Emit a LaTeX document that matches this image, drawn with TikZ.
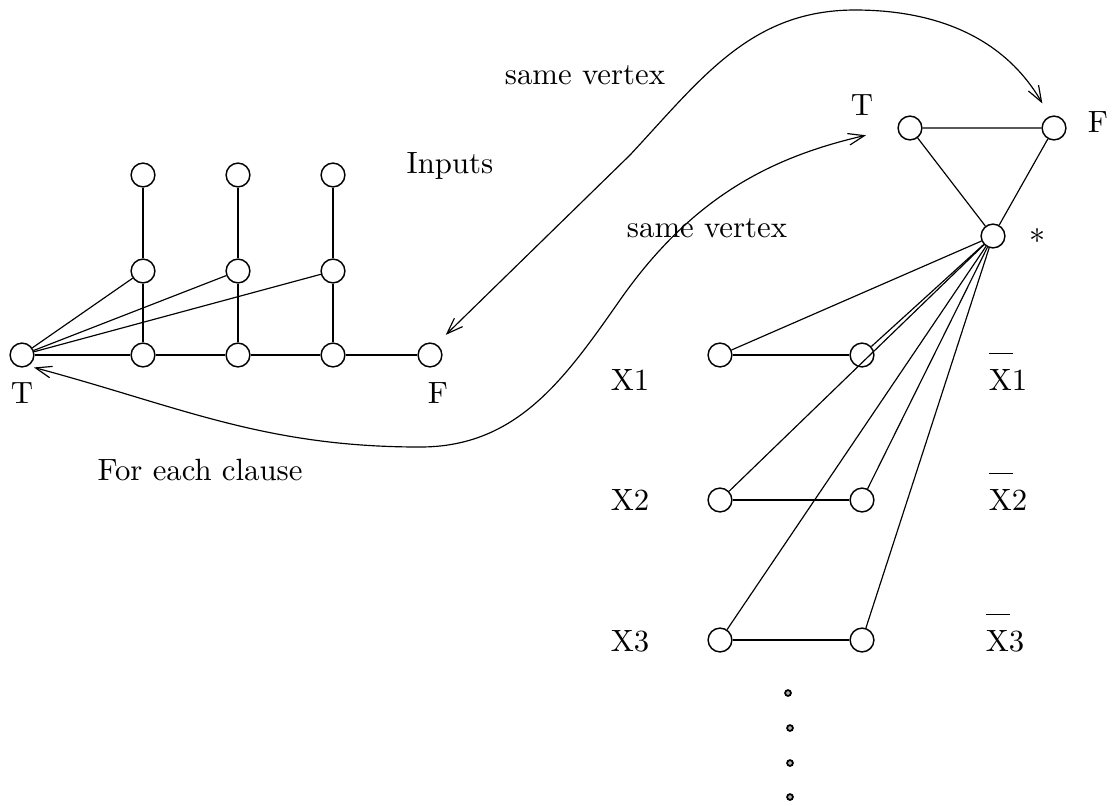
\documentclass[tikz,border=0pt]{standalone}
\usepackage{tikz}
\usetikzlibrary{arrows.meta, positioning, calc}
\tikzset{
  vtx/.style={circle, draw, line width=0.5pt, inner sep=0pt, minimum size=0.285cm},
  edge/.style={line width=0.4pt},
  link/.style={{Straight Barb[length=5.5pt,width=4pt]}-{Straight Barb[length=5.5pt,width=4pt]}, line width=0.4pt},
  lbl/.style={font=\fontsize{10.5}{12}\selectfont, inner sep=0pt},
  dotv/.style={circle, draw, fill=gray!60, line width=0.6pt, inner sep=0pt, minimum size=0.07cm},
}
\newcommand{\negvar}[1]{\rlap{\smash{\rule[12.5pt]{8.4pt}{0.35pt}}}X#1}

\begin{document}
\begin{tikzpicture}[x=0.012cm, y=-0.012cm]
  \useasboundingbox (0,0) rectangle (1113,805);

  % Clause gadget
  \node[vtx] (cT) at (22,355) {};
  \node[vtx] (cF) at (430,355) {};
  \foreach \i/\x in {1/143,2/238,3/333} {
    \node[vtx] (in\i) at (\x,175) {};
    \node[vtx] (or\i) at (\x,271) {};
    \node[vtx] (b\i) at (\x,355) {};
    \draw[edge] (in\i) -- (or\i) -- (b\i);
    \draw[edge] (cT) -- (or\i);
  }
  \draw[edge] (cT) -- (b1) -- (b2) -- (b3) -- (cF);
  \node[lbl] (lcT) at (22,393) {T};
  \node[lbl] (lcF) at (438,393) {F};
  \node[lbl] (inputs) at (450,166) {Inputs};
  \node[lbl] (clause) at (200,470) {For each clause};

  % Palette triangle
  \node[vtx] (pT) at (910,128) {};
  \node[vtx] (pF) at (1054,128) {};
  \node[vtx] (star) at (993,236) {};
  \draw[edge] (pT) -- (pF) -- (star) -- (pT);
  \node[lbl] (lpT) at (862,105) {T};
  \node[lbl] (lpF) at (1098,122) {F};
  \node[lbl] (lstar) at (1038,236) {$*$};

  % Variable gadgets
  \foreach \i/\y in {1/355,2/500,3/640} {
    \node[vtx] (xp\i) at (720,\y) {};
    \node[vtx] (xn\i) at (862,\y) {};
    \draw[edge] (xp\i) -- (xn\i);
    \draw[edge] (star) -- (xp\i);
    \draw[edge] (star) -- (xn\i);
  }
  \node[lbl] (lx1) at (630,380) {X1};
  \node[lbl] (lx2) at (630,500) {X2};
  \node[lbl] (lx3) at (630,641) {X3};
  \node[lbl] (ln1) at (1008,380) {\negvar{1}};
  \node[lbl] (ln2) at (1008,500) {\negvar{2}};
  \node[lbl] (ln3) at (1005,641) {\negvar{3}};

  \foreach \j/\x/\y in {1/788/693,2/790/728,3/790/763,4/790/797} {
    \node[dotv] (d\j) at (\x,\y) {};
  }

  % Identified vertices
  \coordinate (w1) at (630,155);
  \coordinate (w2) at (855,10);
  \coordinate (w3) at (420,447);
  \coordinate (w4) at (620,300);
  \draw[link, shorten <=4.5pt, shorten >=5pt] (cF.60) -- (w1) to[out=47,in=180] (w2) to[out=0,in=120] (pF.110);
  \draw[link, shorten <=2pt, shorten >=11pt] (cT.-60) to[out=-15,in=180] (w3) to[out=0,in=235] (w4) to[out=55,in=193] (pT.west);
  \node[lbl] (same1) at (585,75) {same vertex};
  \node[lbl] (same2) at (707,228) {same vertex};
\end{tikzpicture}
\end{document}
